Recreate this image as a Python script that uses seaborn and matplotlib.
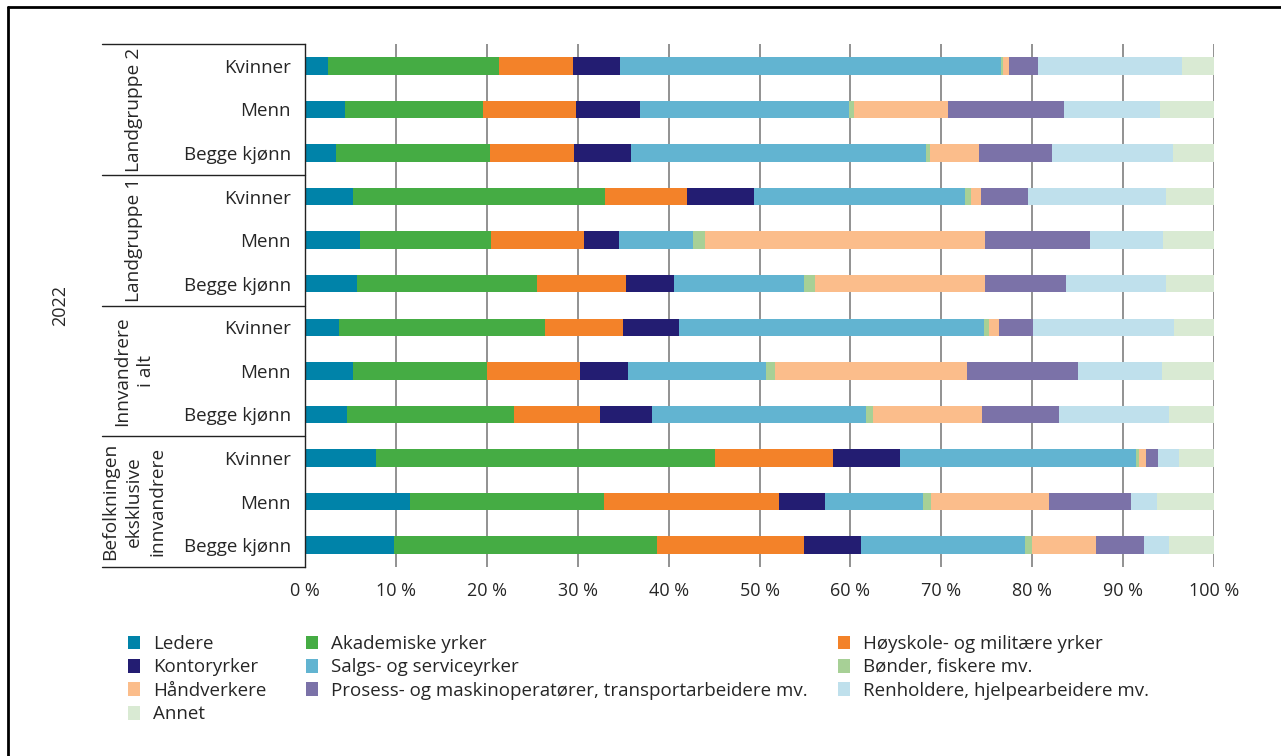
import numpy as np
import matplotlib
matplotlib.use('Agg')
import matplotlib.pyplot as plt
from matplotlib.patches import Patch
from matplotlib.transforms import blended_transform_factory
import seaborn as sns


# ============================================
# DATA (andel sysselsatte, prosent)
# ============================================
# rekkefolge ovenfra og ned
row_labels = ['Kvinner', 'Menn', 'Begge kjønn'] * 4
group_labels = ['Landgruppe 2', 'Landgruppe 1', 'Innvandrere\ni alt',
                'Befolkningen\neksklusive\ninnvandrere']

ledere     = [2.5, 4.4, 3.4, 5.3, 6.0, 5.7, 3.7, 5.3, 4.6, 7.8, 11.6, 9.8]
akademiske = [18.8, 15.2, 17.0, 27.7, 14.5, 19.8, 22.7, 14.7, 18.4, 37.3, 21.3, 28.9]
hoyskole   = [8.2, 10.2, 9.2, 9.0, 10.2, 9.8, 8.6, 10.2, 9.5, 13.0, 19.2, 16.2]
kontor     = [5.2, 7.1, 6.3, 7.4, 3.8, 5.3, 6.1, 5.3, 5.7, 7.4, 5.1, 6.3]
salg       = [41.9, 23.0, 32.4, 23.2, 8.2, 14.3, 33.6, 15.2, 23.5, 25.9, 10.8, 18.0]
bonder     = [0.2, 0.5, 0.5, 0.7, 1.3, 1.2, 0.6, 1.0, 0.8, 0.3, 0.9, 0.8]
handverk   = [0.7, 10.3, 5.4, 1.1, 30.8, 18.7, 1.0, 21.1, 12.0, 0.8, 12.9, 7.0]
prosess    = [3.1, 12.8, 8.0, 5.1, 11.6, 8.9, 3.8, 12.2, 8.4, 1.3, 9.1, 5.3]
renhold    = [15.9, 10.6, 13.3, 15.2, 8.0, 11.0, 15.5, 9.3, 12.1, 2.4, 2.8, 2.7]
annet      = [3.5, 5.9, 4.5, 5.3, 5.6, 5.3, 4.4, 5.7, 5.0, 3.8, 6.3, 5.0]

categories = ['Ledere', 'Akademiske yrker', 'Høyskole- og militære yrker',
              'Kontoryrker', 'Salgs- og serviceyrker', 'Bønder, fiskere mv.',
              'Håndverkere', 'Prosess- og maskinoperatører, transportarbeidere mv.',
              'Renholdere, hjelpearbeidere mv.', 'Annet']
series = [ledere, akademiske, hoyskole, kontor, salg,
          bonder, handverk, prosess, renhold, annet]
colors = ['#0083a9', '#45ac44', '#f38229', '#231d72', '#62b4d1',
          '#a7d096', '#fbbd8b', '#7b72a8', '#bfe0ec', '#d9ead3']

x_ticks = list(range(0, 101, 10))


# ============================================
# PLOT
# ============================================
sns.set_theme(style='white')
plt.rcParams['font.family'] = ['Open Sans', 'DejaVu Sans']

fig = plt.figure(figsize=(12.81, 7.56), dpi=100)
ax = fig.add_axes([305 / 1281, 1 - 567 / 756, 909 / 1281, 523 / 756])

row_ids = [str(i) for i in range(len(row_labels))]
cum = np.cumsum(np.array(series), axis=0)

# stablede stolper: tegn lengste kumulative forst
for i in range(len(series) - 1, -1, -1):
    sns.barplot(x=cum[i], y=row_ids, order=row_ids, orient='h',
                color=colors[i], width=0.4, saturation=1,
                errorbar=None, linewidth=0, ax=ax)

ax.set_xlim(0, 100)
ax.set_ylim(11.5, -0.5)
ax.set_xticks(x_ticks)
ax.set_xticklabels([f'{v} %' for v in x_ticks], fontsize=13)
ax.set_yticks(range(len(row_labels)))
ax.set_yticklabels(row_labels, fontsize=13.5)
ax.set_xlabel('')
ax.set_ylabel('')
ax.tick_params(axis='x', length=0, pad=11)
ax.tick_params(axis='y', length=0, pad=10)

ax.xaxis.grid(True, color='#7f7f7f', linewidth=1.2)
ax.yaxis.grid(False)
ax.set_axisbelow(True)
for side in ['top', 'right', 'bottom']:
    ax.spines[side].set_visible(False)
ax.spines['left'].set_color('#222222')
ax.spines['left'].set_linewidth(1.0)

# gruppeskiller og gruppetekster
trans = blended_transform_factory(ax.transAxes, ax.transData)
x0 = (102 - 305) / 909
for y in [-0.5, 2.5, 5.5, 8.5, 11.5]:
    ax.plot([x0, 0], [y, y], color='#222222', lw=1.0,
            transform=trans, clip_on=False)
x_grp = (134 - 305) / 909
for g, label in enumerate(group_labels):
    ax.text(x_grp, g * 3 + 1, label, transform=trans, rotation=90,
            ha='center', va='center', multialignment='center',
            fontsize=13.8, linespacing=1.42)

fig.text(60 / 1281, 1 - 305 / 756, '2022', rotation=90,
         ha='center', va='center', fontsize=13)

# legende i tre kolonner
handles = [Patch(facecolor=c, edgecolor='none') for c in colors]
columns = [([0, 3, 6, 9], 128), ([1, 4, 7], 306), ([2, 5, 8], 838)]
for idx, xpx in columns:
    leg = fig.legend([handles[k] for k in idx], [categories[k] for k in idx],
                     loc='upper left',
                     bbox_to_anchor=(xpx / 1281, 1 - 635 / 756),
                     frameon=False, fontsize=13.5, borderpad=0,
                     borderaxespad=0, handlelength=0.65, handleheight=0.75,
                     handletextpad=0.7, labelspacing=0.29)

# ramme (venstre og topp)
fig.add_artist(plt.Line2D([8 / 1281, 8 / 1281], [0, 1 - 7 / 756],
                          color='black', lw=2, transform=fig.transFigure))
fig.add_artist(plt.Line2D([8 / 1281, 1], [1 - 7 / 756, 1 - 7 / 756],
                          color='black', lw=2, transform=fig.transFigure))

fig.savefig('out.png', dpi=100)
plt.close()
